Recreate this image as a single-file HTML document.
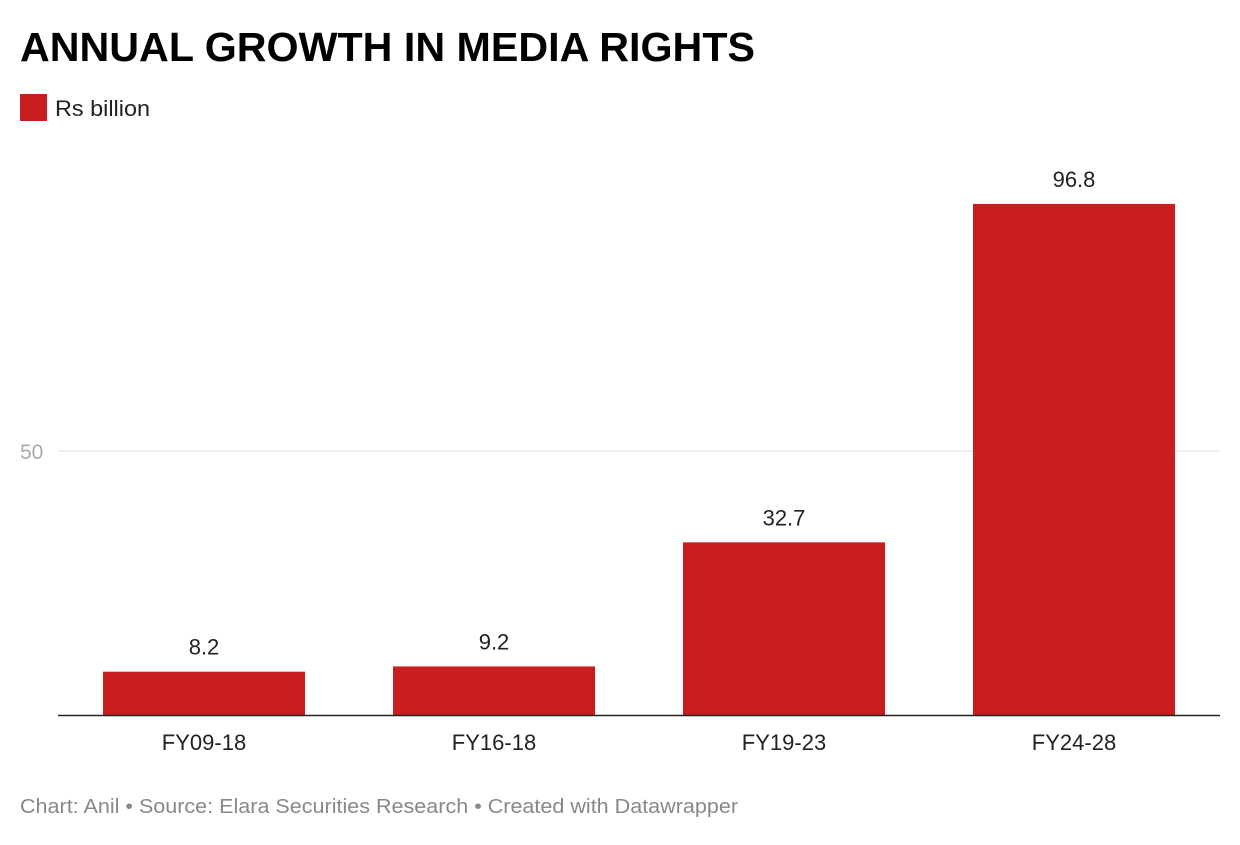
<!DOCTYPE html>
<html><head><meta charset="utf-8"><style>
body{margin:0;background:#fff;width:1240px;height:840px;overflow:hidden;font-family:"Liberation Sans",sans-serif}
</style></head><body>
<svg width="1240" height="840" xmlns="http://www.w3.org/2000/svg">
<text x="20" y="61" font-size="41" font-weight="bold" fill="#000" textLength="735" lengthAdjust="spacingAndGlyphs">ANNUAL GROWTH IN MEDIA RIGHTS</text>
<rect x="20" y="94" width="27" height="27" fill="#c91d1f"/>
<text x="55" y="116" font-size="22" fill="#222" textLength="95" lengthAdjust="spacingAndGlyphs">Rs billion</text>
<g id="plot"></g>
<text x="20" y="813" font-size="20" fill="#888" textLength="718" lengthAdjust="spacingAndGlyphs">Chart: Anil • Source: Elara Securities Research • Created with Datawrapper</text>
</svg>
<script>
const categories=["FY09-18","FY16-18","FY19-23","FY24-28"];
const values=[8.2,9.2,32.7,96.8];
const labels=["8.2","9.2","32.7","96.8"];
const ticks=[50];
const NS="http://www.w3.org/2000/svg";
const g=document.getElementById('plot');
const x0=59,x1=1219,base=715,pxPer=5.28;
const step=(x1-x0)/categories.length,bw=202;
const y=v=>base-v*pxPer;
function mk(t,a){const e=document.createElementNS(NS,t);for(const k in a)e.setAttribute(k,a[k]);g.appendChild(e);return e;}
ticks.forEach(t=>{
 const l=mk('line',{x1:58,x2:1220,y1:y(t),y2:y(t),stroke:'#e2e2e2','stroke-width':1});
 
 
 const tx=mk('text',{x:20,y:y(t)+8,'font-size':21,fill:'#aaa'});tx.textContent=t;
 
 
});
categories.forEach((c,i)=>{
 const cx=x0+step*i+step/2;
 const r=mk('rect',{x:cx-bw/2,y:y(values[i]),width:bw,height:values[i]*pxPer,fill:'#c91d1f'});
 
 
 const v=mk('text',{x:cx,y:y(values[i])-17,'font-size':22,fill:'#222','text-anchor':'middle'});v.textContent=labels[i];
 
 
 const t=mk('text',{x:cx,y:750,'font-size':22,fill:'#222','text-anchor':'middle'});t.textContent=c;
 
 
});
const ax=mk('line',{x1:58,x2:1220,y1:base+0.5,y2:base+0.5,stroke:'#222','stroke-width':1.5});


</script>
</body></html>
